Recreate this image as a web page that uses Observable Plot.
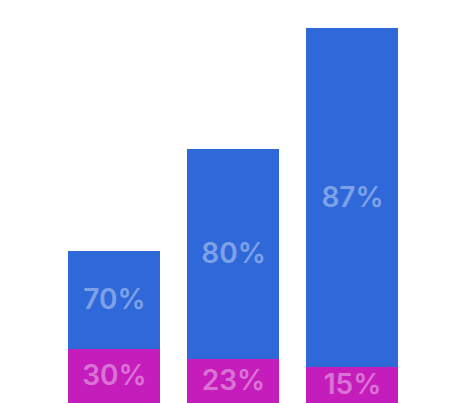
<!DOCTYPE html>
<html>
<head>
<meta charset="utf-8">
<script src="https://cdn.jsdelivr.net/npm/d3@7"></script>
<script src="https://cdn.jsdelivr.net/npm/@observablehq/plot@0.6"></script>
<style>
  html, body { margin: 0; padding: 0; background: #fff; }
  #chart svg { display: block; }
</style>
</head>
<body>
<div id="chart"></div>
<script>
const categories = ["A", "B", "C"];
const series = ["lower", "upper"];
const lowerValues = [54, 44, 36];
const upperValues = [98, 210, 339];
const lowerLabels = ["30%", "23%", "15%"];
const upperLabels = ["70%", "80%", "87%"];
const colors = ["#c41dbb", "#2f68d8"];

const rows = [];
categories.forEach((c, i) => {
  rows.push({cat: c, series: "lower", value: lowerValues[i], label: lowerLabels[i]});
  rows.push({cat: c, series: "upper", value: upperValues[i], label: upperLabels[i]});
});

const chart = Plot.plot({
  width: 471,
  height: 403,
  marginLeft: 68,
  marginRight: 73,
  marginTop: 0,
  marginBottom: 0,
  x: {domain: categories, paddingInner: 0.227, paddingOuter: 0, axis: null},
  y: {domain: [0, 403], axis: null},
  color: {domain: series, range: colors},
  marks: [
    Plot.barY(rows, {x: "cat", y: "value", fill: "series", z: "series", order: series}),
    Plot.text(rows, Plot.stackY({
      x: "cat", y: "value", z: "series", order: series, text: "label",
      fill: "white", fillOpacity: 0.4,
      fontSize: 28, fontFamily: "Inter", fontWeight: 600
    }))
  ]
});
document.getElementById("chart").appendChild(chart);
</script>
</body>
</html>
